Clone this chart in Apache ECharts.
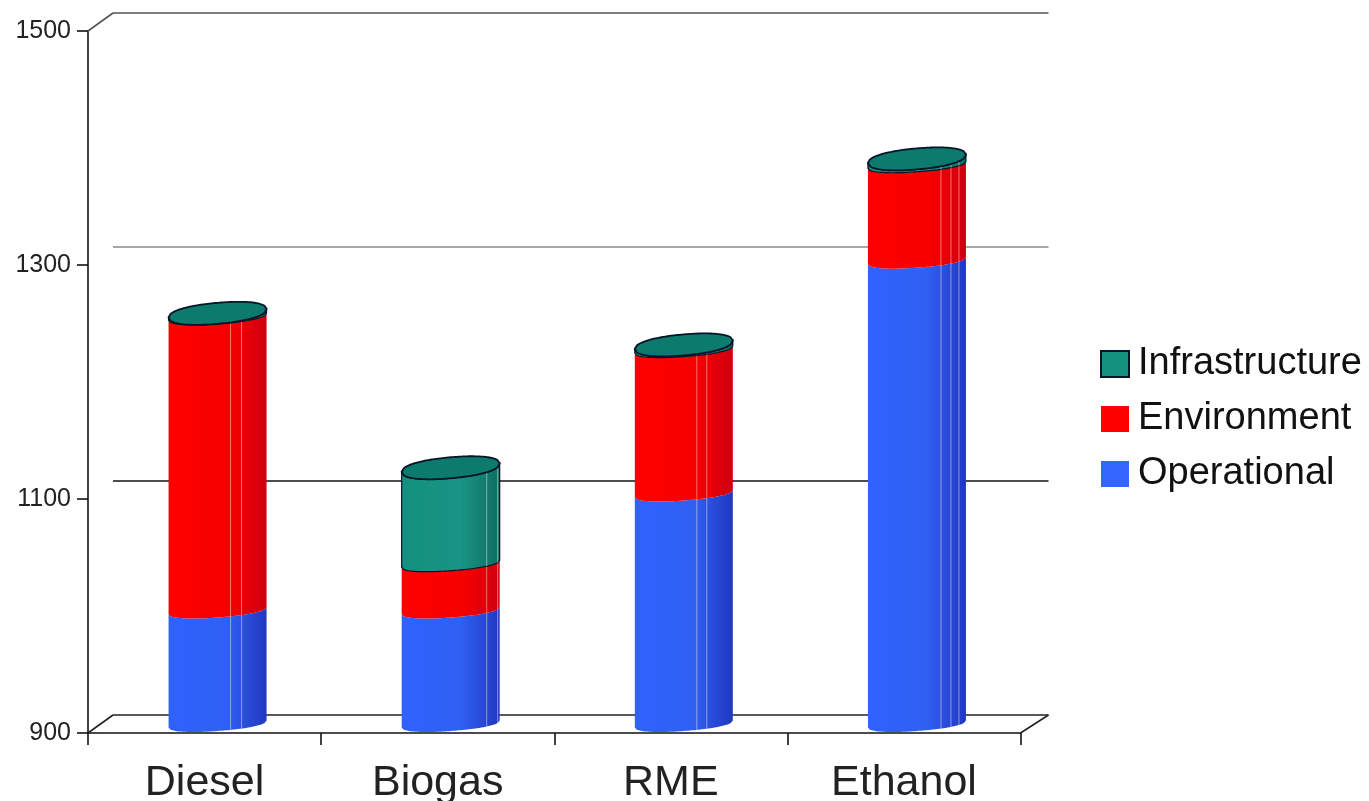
<!DOCTYPE html>
<html>
<head>
<meta charset="utf-8">
<style>html,body{margin:0;padding:0;background:#fff}#chart{width:1369px;height:801px}</style>
<script src="https://cdn.jsdelivr.net/npm/echarts@6/dist/echarts.min.js"></script>
</head>
<body>
<div id="chart"></div>
<script>
// Life-cycle cost per fuel, stacked by cost type
const categories = ['Diesel', 'Biogas', 'RME', 'Ethanol'];
const operational = [997, 997, 1097, 1296];
const environment = [251, 40, 123, 82];
const infrastructure = [3, 82, 4, 5];
const yTicks = [900, 1100, 1300, 1500];

// Fake-3D box depth in pixels and the cylinder cross-section
const DEPTH_X = 26, DEPTH_Y = 18, RX = 49;
const CAP = {ry: 10.5, tilt: 4.2, power: 2.2};
const SEAM = {ry: 7, tilt: 3.5, power: 2.2};
const wallColors = {900: '#222', 1100: '#111', 1300: '#8a8a8a', 1500: '#555'};
const sheen = [[62, 73], [85, 96], [62, 72], [73, 83, 91]];

const palette = {
  Operational: {stops: ['#2f62ff', '#3060f2', '#2038c0'], cap: '#3264f5', line: null},
  Environment: {stops: ['#ff0000', '#f80000', '#d0000f'], cap: '#ff0000', line: null},
  Infrastructure: {stops: ['#13907f', '#1a9484', '#0e6d64'], cap: '#0c7a6c', line: '#04152a'}
};

function rimY(dx, cy, dir, s) {
  const u = dx / RX;
  const r = Math.pow(Math.max(0, 1 - Math.pow(Math.abs(u), s.power)), 1 / s.power);
  return cy + dir * s.ry * r - s.tilt * u;
}

function rim(cx, cy, dir, s) {
  const pts = [];
  for (let i = 0; i <= 48; i++) {
    const dx = RX * (-1 + i / 24);
    pts.push([cx + dx, rimY(dx, cy, dir, s)]);
  }
  return pts;
}

function cylinderRenderer(name, lower, values) {
  return function (params, api) {
    const i = params.dataIndex;
    const base = lower(i), top = base + values[i];
    const p0 = api.coord([i, base]), p1 = api.coord([i, top]);
    const cx = p0[0] + DEPTH_X / 2;
    const y0 = p0[1] - DEPTH_Y / 2, y1 = p1[1] - DEPTH_Y / 2;
    const c = palette[name];
    const isTop = name === 'Infrastructure';
    const topStyle = isTop ? CAP : SEAM;
    const upper = rim(cx, y1, 1, topStyle), bottom = rim(cx, y0, 1, SEAM);
    const fill = new echarts.graphic.LinearGradient(0, 0, 1, 0, [
      {offset: 0, color: c.stops[0]}, {offset: 0.6, color: c.stops[1]}, {offset: 1, color: c.stops[2]}
    ]);
    const children = [{
      type: 'polygon',
      shape: {points: upper.concat(bottom.slice().reverse())},
      style: {fill: fill, stroke: c.line, lineWidth: c.line ? 1.2 : 0}
    }];
    sheen[i].forEach(function (off) {
      const dx = off - RX;
      children.push({
        type: 'line',
        shape: {
          x1: cx + dx, y1: rimY(dx, y1, 1, topStyle),
          x2: cx + dx, y2: rimY(dx, y0, 1, SEAM)
        },
        style: {stroke: 'rgba(255,235,215,0.5)', lineWidth: 1}
      });
    });
    if (isTop) {
      children.push({
        type: 'polygon',
        shape: {points: rim(cx, y1, -1, CAP).concat(upper.slice().reverse())},
        style: {fill: c.cap, stroke: c.line, lineWidth: 1.8}
      });
    }
    return {type: 'group', children: children};
  };
}

function wallRenderer(params, api) {
  const v = yTicks[params.dataIndex];
  const box = params.coordSys;
  const y = api.coord([0, v])[1];
  const left = box.x, right = box.x + box.width;
  const style = {stroke: wallColors[v], lineWidth: 1.6};
  const children = [{
    type: 'line',
    shape: {x1: left + DEPTH_X - 1, y1: y - DEPTH_Y, x2: right + DEPTH_X + 2, y2: y - DEPTH_Y},
    style: style
  }];
  if (v === 900 || v === 1500) {
    children.push({
      type: 'line',
      shape: {x1: left, y1: y, x2: left + DEPTH_X - 1, y2: y - DEPTH_Y},
      style: style
    });
  }
  if (v === 900) {
    children.push({
      type: 'line',
      shape: {x1: right, y1: y, x2: right + DEPTH_X + 2, y2: y - DEPTH_Y},
      style: style
    });
  }
  return {type: 'group', children: children};
}

const font = 'Liberation Sans, Arial, sans-serif';

function cylinderSeries(name, lower, values, z) {
  return {
    name: name,
    type: 'custom',
    coordinateSystem: 'cartesian2d',
    clip: false,
    z: z,
    itemStyle: {color: palette[name].cap},
    encode: {x: 0, y: 1},
    data: categories.map((c, i) => [i, lower(i) + values[i]]),
    renderItem: cylinderRenderer(name, lower, values)
  };
}

const chart = echarts.init(document.getElementById('chart'), null, {renderer: 'canvas'});
chart.setOption({
  animation: false,
  backgroundColor: '#fff',
  grid: {left: 88, right: 348.5, top: 31, bottom: 68, outerBoundsMode: 'none'},
  legend: {
    orient: 'vertical',
    left: 1095,
    top: 340,
    itemWidth: 28,
    itemHeight: 26,
    itemGap: 17,
    icon: 'rect',
    selectedMode: false,
    textStyle: {fontFamily: font, fontSize: 38, color: '#111', padding: [0, 0, 0, 4]},
    data: [
      {name: 'Infrastructure', itemStyle: {color: '#14917f', borderColor: '#04152a', borderWidth: 2}},
      {name: 'Environment', itemStyle: {color: '#ff0000'}},
      {name: 'Operational', itemStyle: {color: '#3366ff'}}
    ]
  },
  xAxis: {
    type: 'category',
    data: categories,
    axisLine: {lineStyle: {color: '#111', width: 1.6}},
    axisTick: {show: true, length: 12, alignWithLabel: false, lineStyle: {color: '#111', width: 1.6}},
    axisLabel: {fontFamily: font, fontSize: 43, color: '#222', margin: 29, interval: 0},
    splitLine: {show: false}
  },
  yAxis: {
    type: 'value',
    min: 900,
    max: 1500,
    interval: 200,
    axisLine: {show: true, lineStyle: {color: '#111', width: 1.6}},
    axisTick: {show: true, length: 11, lineStyle: {color: '#111', width: 1.6}},
    axisLabel: {fontFamily: font, fontSize: 25, color: '#222', margin: 17, padding: [5, 0, 0, 0], formatter: v => String(v)},
    splitLine: {show: false}
  },
  series: [
    {
      name: 'walls',
      type: 'custom',
      clip: false,
      silent: true,
      z: 1,
      encode: {y: 1},
      data: yTicks.map(v => [0, v]),
      renderItem: wallRenderer
    },
    cylinderSeries('Operational', () => 900, operational.map(v => v - 900), 2),
    cylinderSeries('Environment', i => operational[i], environment, 3),
    cylinderSeries('Infrastructure', i => operational[i] + environment[i], infrastructure, 4)
  ]
});
</script>
</body>
</html>
